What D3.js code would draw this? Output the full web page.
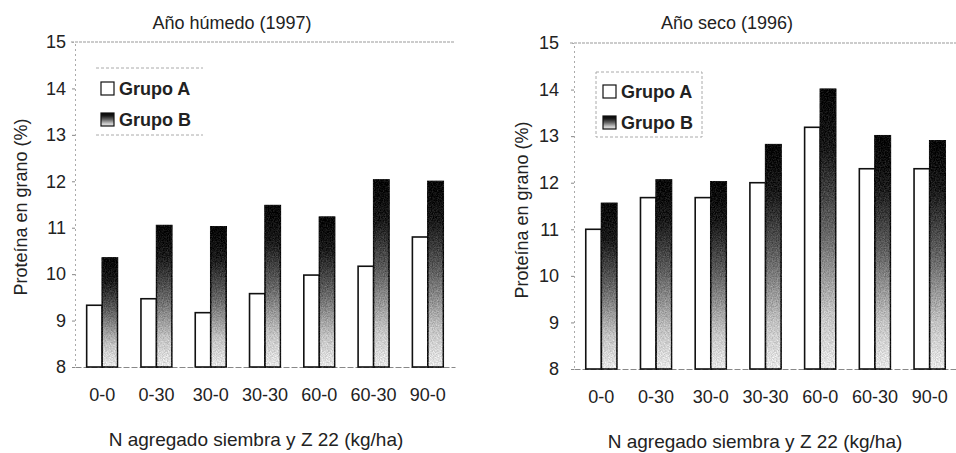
<!DOCTYPE html>
<html>
<head>
<meta charset="utf-8">
<script src="https://cdn.jsdelivr.net/npm/d3@7"></script>
<style>
  body { margin: 0; background: #fff; }
  text { font-family: "Liberation Sans", Arial, sans-serif; fill: #222; }
</style>
</head>
<body>
<svg width="956" height="453"></svg>
<script>
// datos
var categories = ["0-0", "0-30", "30-0", "30-30", "60-0", "60-30", "90-0"];
var groups = ["Grupo A", "Grupo B"];
var humedoA = [9.33, 9.47, 9.17, 9.58, 9.98, 10.17, 10.80];
var humedoB = [10.35, 11.05, 11.02, 11.48, 11.23, 12.03, 12.00];
var secoA = [11.00, 11.68, 11.68, 12.00, 13.19, 12.30, 12.30];
var secoB = [11.56, 12.06, 12.02, 12.82, 14.01, 13.01, 12.90];
var yTicks = [8, 9, 10, 11, 12, 13, 14, 15];

var svg = d3.select("svg");

// degradado negro -> claro para el Grupo B
var defs = svg.append("defs");
var grad = defs.append("linearGradient")
    .attr("id", "gradB")
    .attr("x1", 0).attr("y1", 0).attr("x2", 0).attr("y2", 1);
grad.append("stop").attr("offset", "0%").attr("stop-color", "#050505");
grad.append("stop").attr("offset", "22%").attr("stop-color", "#1a1a1a");
grad.append("stop").attr("offset", "50%").attr("stop-color", "#636363");
grad.append("stop").attr("offset", "80%").attr("stop-color", "#c4c4c4");
grad.append("stop").attr("offset", "100%").attr("stop-color", "#e8e8e8");

// grano del fotocopiado: fuente + (ruido - 0.5) * k
var grain = defs.append("filter").attr("id", "grain")
    .attr("color-interpolation-filters", "sRGB")
    .attr("x", -0.2).attr("y", -0.05).attr("width", 1.4).attr("height", 1.1);
grain.append("feTurbulence").attr("type", "fractalNoise")
    .attr("baseFrequency", 0.8).attr("numOctaves", 2).attr("result", "noise");
grain.append("feColorMatrix").attr("in", "noise").attr("type", "matrix")
    .attr("values", "1 0 0 0 0  1 0 0 0 0  1 0 0 0 0  0 0 0 0 1")
    .attr("result", "gray");
grain.append("feComposite").attr("in", "gray").attr("in2", "SourceGraphic")
    .attr("operator", "arithmetic")
    .attr("k1", 0).attr("k2", 0.35).attr("k3", 1).attr("k4", -0.175)
    .attr("result", "mix");
grain.append("feComposite").attr("in", "mix").attr("in2", "SourceGraphic")
    .attr("operator", "in");

function drawChart(cfg) {
  var y = d3.scaleLinear().domain([8, 15]).range([cfg.bottom, cfg.top]);
  var x = d3.scaleBand().domain(categories)
      .range([cfg.left, cfg.right])
      .paddingInner(0.43).paddingOuter(0.215);
  var xs = d3.scaleBand().domain(groups).range([0, x.bandwidth()]);

  var g = svg.append("g");

  // titulo
  g.append("text")
      .attr("x", cfg.titleX).attr("y", 29)
      .attr("text-anchor", "middle")
      .style("font-size", "18px")
      .text(cfg.title);

  // linea de 15
  g.append("line")
      .attr("x1", cfg.left - 4).attr("x2", cfg.right)
      .attr("y1", y(15)).attr("y2", y(15))
      .attr("stroke", "#999").attr("stroke-width", 1)
      .attr("stroke-dasharray", "3,1");

  // eje y
  var yAxis = g.append("g")
      .attr("transform", "translate(" + cfg.left + ",0)")
      .call(d3.axisLeft(y).tickValues(yTicks).tickFormat(d3.format("d"))
        .tickSize(3).tickPadding(cfg.yPad));
  yAxis.select(".domain").attr("stroke", "#aaa").attr("stroke-dasharray", "2,3");
  yAxis.selectAll(".tick line").attr("stroke", "#888");
  yAxis.selectAll(".tick text")
      .style("font-size", "18px").style("font-family", "Liberation Sans, Arial, sans-serif")
      .attr("fill", "#222");
  yAxis.selectAll(".tick").filter(function(d) { return d === 15; }).select("line").remove();

  // eje x
  var xAxis = g.append("g")
      .attr("transform", "translate(0," + y(8) + ")")
      .call(d3.axisBottom(x).tickSize(0).tickPadding(21));
  xAxis.select(".domain").attr("stroke", "#888").attr("stroke-dasharray", "6,2");
  xAxis.selectAll(".tick text")
      .style("font-size", "18px").style("font-family", "Liberation Sans, Arial, sans-serif")
      .attr("fill", "#222");

  // barras
  var grp = g.selectAll(".grp")
      .data(categories)
      .enter().append("g")
      .attr("class", "grp")
      .attr("transform", function(d) { return "translate(" + x(d) + ",0)"; });

  grp.append("rect")
      .attr("x", xs("Grupo A"))
      .attr("y", function(d, i) { return y(cfg.a[i]); })
      .attr("width", xs.bandwidth())
      .attr("height", function(d, i) { return y(8) - y(cfg.a[i]); })
      .attr("fill", "#fff").attr("stroke", "#111").attr("stroke-width", 1.6);

  grp.append("rect")
      .attr("x", xs("Grupo B"))
      .attr("y", function(d, i) { return y(cfg.b[i]); })
      .attr("width", xs.bandwidth())
      .attr("height", function(d, i) { return y(8) - y(cfg.b[i]); })
      .attr("fill", "url(#gradB)").attr("filter", "url(#grain)")
      .attr("stroke", "#111").attr("stroke-width", 1.6);

  // titulos de ejes
  g.append("text")
      .attr("transform", "translate(" + cfg.yTitleX + "," + cfg.yTitleY + ") rotate(-90)")
      .attr("text-anchor", "middle")
      .style("font-size", "18px")
      .text("Proteína en grano (%)");

  g.append("text")
      .attr("x", cfg.xTitleX).attr("y", cfg.xTitleY)
      .attr("text-anchor", "middle")
      .style("font-size", "19px")
      .text("N agregado siembra y Z 22 (kg/ha)");

  // leyenda
  var lg = g.append("g").attr("transform", "translate(" + cfg.legX + "," + cfg.legY + ")");
  if (cfg.legBox) {
    lg.append("rect").attr("x", 0).attr("y", 0).attr("width", 106).attr("height", 65)
        .attr("fill", "#fff").attr("stroke", "#aaa").attr("stroke-dasharray", "3,2");
  } else {
    lg.append("line").attr("x1", 0).attr("x2", 107).attr("y1", 0).attr("y2", 0)
        .attr("stroke", "#aaa").attr("stroke-dasharray", "3,2");
    lg.append("line").attr("x1", 0).attr("x2", 107).attr("y1", 67).attr("y2", 67)
        .attr("stroke", "#aaa").attr("stroke-dasharray", "3,2");
  }
  groups.forEach(function(name, i) {
    var yy = cfg.legFirst + i * 31;
    lg.append("rect")
        .attr("x", cfg.swX).attr("y", yy).attr("width", 13).attr("height", 13)
        .attr("fill", i === 0 ? "#fff" : "url(#gradB)")
        .attr("stroke", "#111").attr("stroke-width", 1.2);
    lg.append("text")
        .attr("x", cfg.swX + 18).attr("y", yy + 13)
        .style("font-size", "18px").style("font-weight", "bold")
        .text(name);
  });
}

drawChart({
  title: "Año húmedo (1997)", titleX: 232,
  a: humedoA, b: humedoB,
  left: 75, right: 455, top: 42, bottom: 367, yPad: 6,
  yTitleX: 27, yTitleY: 207, xTitleX: 256, xTitleY: 446,
  legX: 96, legY: 68, legBox: false, legFirst: 14, swX: 5
});

drawChart({
  title: "Año seco (1996)", titleX: 727,
  a: secoA, b: secoB,
  left: 574, right: 957, top: 43, bottom: 369, yPad: 12,
  yTitleX: 528, yTitleY: 210, xTitleX: 755, xTitleY: 448,
  legX: 596, legY: 72, legBox: true, legFirst: 13, swX: 7
});
</script>
</body>
</html>
